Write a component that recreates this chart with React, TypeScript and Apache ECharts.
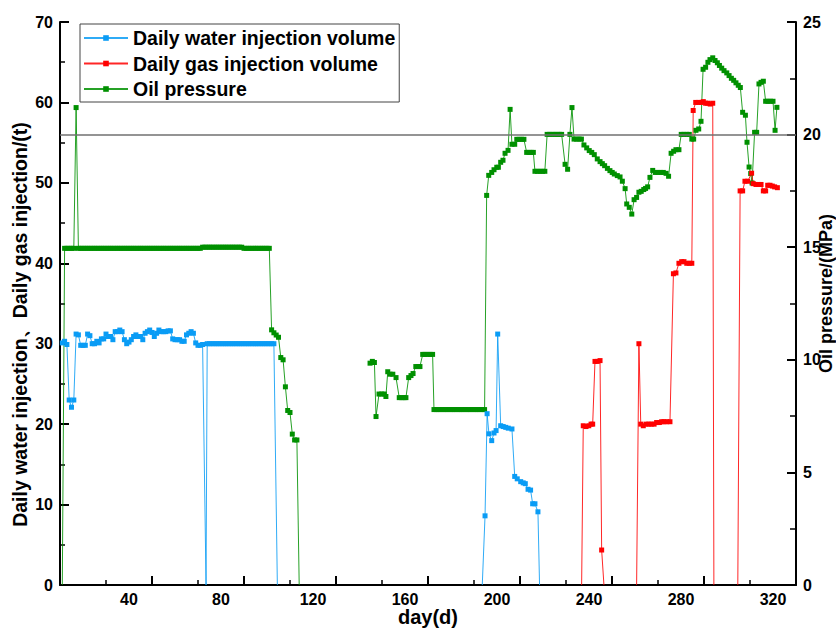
import React, { useEffect, useRef } from 'react';
import * as echarts from 'echarts';

const FONT = '"Liberation Sans", Arial, Helvetica, sans-serif';

const seriesNames = ['Daily water injection volume', 'Daily gas injection volume', 'Oil pressure'];
const xAxisName = 'day(d)';
const leftAxisName = 'Daily water injection、Daily gas injection/(t)';
const rightAxisName = 'Oil pressure/(MPa)';
const dayRange = [0, 320];
const dayStep = 40;
const injectionRange = [0, 70];
const injectionStep = 10;
const pressureRange = [0, 25];
const pressureStep = 5;
const pressureReference = 20;

// [day, t]  (null = gap)
const waterInjection: [number, number | null][] = [
  [1, 30.1], [2, 30.3], [3, 29.9], [4, 23.0], [5, 22.1], [6, 23.0], [7, 31.2], [8, 31.1], [9, 29.8], [10, 29.8],
  [11, 29.8], [12, 31.2], [13, 31.0], [14, 30.0], [15, 30.0], [16, 30.3], [17, 30.1], [18, 30.6], [19, 30.6], [20, 31.2],
  [21, 30.9], [22, 30.9], [23, 30.5], [24, 31.5], [25, 31.5], [26, 31.7], [27, 31.5], [28, 30.5], [29, 30.0], [30, 30.2],
  [31, 30.5], [32, 30.9], [33, 31.1], [34, 30.9], [35, 30.9], [36, 30.5], [37, 31.3], [38, 31.5], [39, 31.7], [40, 31.4],
  [41, 30.9], [42, 31.3], [43, 31.7], [44, 31.5], [45, 31.5], [46, 31.5], [47, 31.6], [48, 31.6], [49, 30.6], [50, 30.5],
  [51, 30.5], [52, 30.5], [53, 30.3], [54, 30.3], [55, 31.1], [56, 31.3], [57, 31.5], [58, 31.3], [59, 30.1], [60, 29.8],
  [61, 29.8], [62, 29.9], [63.5, 0],
  [64, 30], [65, 30], [66, 30], [67, 30], [68, 30], [69, 30], [70, 30], [71, 30], [72, 30], [73, 30],
  [74, 30], [75, 30], [76, 30], [77, 30], [78, 30], [79, 30], [80, 30], [81, 30], [82, 30], [83, 30],
  [84, 30], [85, 30], [86, 30], [87, 30], [88, 30], [89, 30], [90, 30], [91, 30], [92, 30], [93, 30],
  [94.5, 0], [140, null],
  [183.6, 0], [184.8, 8.6], [185.7, 21.3], [186.5, 18.8], [187.7, 17.95], [188.7, 18.9], [189.6, 19.2], [190.3, 31.2],
  [191.6, 19.8], [192.7, 19.7], [193.8, 19.6], [194.9, 19.5], [196.5, 19.4], [197.7, 13.5], [198.8, 13.2], [200.3, 12.85],
  [201.4, 12.7], [202.3, 12.6], [203.5, 11.9], [204.6, 11.8], [205.5, 10.1], [206.5, 10.1], [207.8, 9.1], [208.5, 0],
];

// [day, t]  (null = gap)
const gasInjection: [number, number | null][] = [
  [226.8, 0], [227.5, 19.8], [228.7, 19.7], [229.9, 19.8], [230.9, 20.0], [231.6, 20.0], [232.6, 27.8],
  [233.6, 27.8], [234.8, 27.9], [235.5, 4.35], [236.5, 0], [243, null], [250.7, 0], [251.7, 30.0], [252.5, 20.0], [253.6, 19.8],
  [254.8, 20.0], [256, 20.0], [257.1, 20.0], [258.3, 20.0], [259.4, 20.2], [260.6, 20.2], [261.6, 20.3], [262.6, 20.3],
  [263.8, 20.3], [265.2, 20.3], [266.7, 38.7], [267.8, 38.8], [269.1, 40.0], [270.3, 40.2], [271.3, 40.2], [272.5, 40.0],
  [273.6, 40.0], [274.7, 40.0], [275.3, 59.0], [276.4, 60.0], [277.5, 60.0], [278.7, 60.0], [279.7, 60.1], [280.7, 59.9],
  [281.6, 59.9], [282.7, 59.8], [283.8, 59.9], [284.3, 0], [289, null], [294.7, 0], [295.7, 49.0], [296.8, 49.0], [297.8, 50.2],
  [299, 50.2], [300.7, 51.2], [301.4, 49.9], [302.6, 49.8], [303.7, 49.8], [304.8, 49.8], [305.8, 49.0], [306.8, 49.0],
  [307.7, 49.7], [308.7, 49.7], [309.7, 49.6], [310.7, 49.5], [311.9, 49.4],
];

// [day, MPa]  (null = gap)
const oilPressure: [number, number | null][] = [
  [1, 0], [2, 14.95], [3, 14.95], [4, 14.95], [5, 14.95], [6, 14.95], [7, 21.2], [8, 14.95], [9, 14.95], [10, 14.95],
  [11, 14.95], [12, 14.95], [13, 14.95], [14, 14.95], [15, 14.95], [16, 14.95], [17, 14.95], [18, 14.95], [19, 14.95], [20, 14.95],
  [21, 14.95], [22, 14.95], [23, 14.95], [24, 14.95], [25, 14.95], [26, 14.95], [27, 14.95], [28, 14.95], [29, 14.95], [30, 14.95],
  [31, 14.95], [32, 14.95], [33, 14.95], [34, 14.95], [35, 14.95], [36, 14.95], [37, 14.95], [38, 14.95], [39, 14.95], [40, 14.95],
  [41, 14.95], [42, 14.95], [43, 14.95], [44, 14.95], [45, 14.95], [46, 14.95], [47, 14.95], [48, 14.95], [49, 14.95], [50, 14.95],
  [51, 14.95], [52, 14.95], [53, 14.95], [54, 14.95], [55, 14.95], [56, 14.95], [57, 14.95], [58, 14.95], [59, 14.95], [60, 14.95],
  [61, 14.95], [62, 15.0], [63, 15.0], [64, 15.0], [65, 15.0], [66, 15.0], [67, 15.0], [68, 15.0], [69, 15.0], [70, 15.0],
  [71, 15.0], [72, 15.0], [73, 15.0], [74, 15.0], [75, 15.0], [76, 15.0], [77, 15.0], [78, 15.0], [79, 15.0], [80, 14.95],
  [81, 14.95], [82, 14.95], [83, 14.95], [84, 14.95], [85, 14.95], [86, 14.95], [87, 14.95], [88, 14.95], [89, 14.95], [90, 14.95],
  [91, 14.95], [92, 11.33], [93, 11.2], [94, 11.1], [95, 11.0], [96, 10.1], [97, 10.0], [98, 8.8], [99, 7.75], [100, 7.66],
  [101, 6.7], [102, 6.44], [103, 6.44], [104, 0],
  [120, null],
  [134.8, 9.85], [135.8, 9.93], [136.7, 9.88], [137.4, 7.48], [138.7, 8.48], [139.9, 8.48], [141, 8.48], [141.7, 8.37],
  [142.5, 9.47], [143.5, 9.36], [144.7, 9.36], [146.1, 9.21], [147.5, 8.32], [148.6, 8.32], [149.6, 8.32], [150.4, 8.32],
  [151.6, 9.21], [152.6, 9.3], [153.5, 9.39], [154.7, 9.7], [155.7, 9.7], [156.5, 9.7], [157.7, 10.24], [158.7, 10.24],
  [159.8, 10.24], [160.9, 10.24], [162, 10.24],
  [162.6, 7.79], [163.6, 7.79], [164.6, 7.79], [165.6, 7.79], [166.6, 7.79], [167.6, 7.79], [168.6, 7.79], [169.6, 7.79],
  [170.6, 7.79], [171.6, 7.79], [172.6, 7.79], [173.6, 7.79], [174.6, 7.79], [175.6, 7.79], [176.6, 7.79], [177.6, 7.79],
  [178.6, 7.79], [179.6, 7.79], [180.6, 7.79], [181.6, 7.79], [182.6, 7.79], [183.6, 7.79], [184.6, 7.79],
  [185.5, 17.3], [186.4, 18.19], [187.7, 18.32], [188.7, 18.44], [189.9, 18.55], [190.6, 18.55], [191.6, 18.77], [192.6, 18.86],
  [193.5, 19.17], [194.8, 19.3], [195.7, 21.12], [196.5, 19.57], [197.7, 19.57], [198.6, 19.79], [199.6, 19.79], [200.7, 19.79],
  [201.7, 19.79], [202.9, 19.21], [203.9, 19.21], [204.9, 19.21], [205.8, 19.21], [206.5, 18.37], [207.6, 18.37], [208.7, 18.37],
  [209.8, 18.37], [210.8, 18.37], [211.8, 20.01], [212.9, 20.01], [214, 20.01], [215.1, 20.01], [216.1, 20.01], [217.1, 20.01],
  [218.1, 20.01], [219.6, 18.68], [220.7, 18.46], [221.7, 20.01], [222.6, 21.2], [223.5, 19.8], [224.6, 19.8], [225.7, 19.8],
  [226.7, 19.8], [227.8, 19.54], [229, 19.41], [230.1, 19.29], [231.2, 19.21], [232.3, 19.11], [233.6, 18.92], [234.8, 18.8],
  [235.8, 18.71], [236.8, 18.62], [238, 18.5], [239.1, 18.4], [240.1, 18.32], [241, 18.25], [242.3, 18.18], [243.5, 18.12],
  [244.5, 17.93], [245.7, 17.6], [246.4, 16.92], [247.5, 16.77], [248.6, 16.47], [249.6, 17.11], [250.7, 17.21], [251.7, 17.44],
  [252.7, 17.48], [253.8, 17.56], [254.6, 17.61], [255.5, 17.68], [256.5, 18.1], [257.7, 18.41], [258.8, 18.32], [260, 18.32],
  [261.2, 18.32], [262.3, 18.32], [263.5, 18.28], [264.6, 18.15], [265.7, 19.17], [266.8, 19.26], [267.8, 19.33], [269.1, 19.33],
  [270.1, 20.01], [271.3, 20.01], [272.5, 20.01], [273.6, 20.01], [274.7, 19.8], [275.5, 19.8], [276.5, 20.19], [277.7, 20.25],
  [278.7, 20.59], [279.6, 22.9], [280.7, 22.99], [281.7, 23.21], [282.6, 23.33], [283.8, 23.41], [284.8, 23.29], [285.8, 23.19],
  [286.7, 23.07], [287.7, 22.95], [288.7, 22.84], [289.9, 22.74], [290.9, 22.62], [291.9, 22.5], [292.9, 22.41], [293.9, 22.3],
  [294.9, 22.19], [295.8, 22.09], [296.8, 20.99], [298, 20.86], [298.7, 19.66], [299.6, 18.56], [300.3, 18.27], [300.9, 17.85],
  [302, 20.1], [302.9, 20.1], [303.9, 22.25], [304.8, 22.32], [305.8, 22.37], [306.8, 21.48], [307.8, 21.48], [308.9, 21.48],
  [310, 21.48], [310.9, 20.19], [311.7, 21.21],
];

const seriesColors = ['#0a9cf5', '#ff0000', '#009000'];

function toData(pairs: [number, number | null][]) {
  return pairs.map(([d, v]) => {
    if (v === null) return [d, '-'];
    if (v === 0) return { value: [d, v], symbol: 'none' };
    return [d, v];
  });
}

const axisText = { fontFamily: FONT, fontSize: 16, fontWeight: 'bold' as const, color: '#000' };
const nameText = { fontFamily: FONT, fontSize: 20, fontWeight: 'bold' as const, color: '#000' };
const blackLine = { color: '#000', width: 2 };

function lineSeries(name: string, pairs: [number, number | null][], color: string, yAxisIndex: number, extra: any = {}) {
  return {
    name,
    type: 'line',
    yAxisIndex,
    data: toData(pairs),
    symbol: 'rect',
    symbolSize: 5,
    showSymbol: true,
    connectNulls: false,
    color,
    itemStyle: { color },
    lineStyle: { color, width: 1, opacity: 0.85 },
    emphasis: { disabled: true },
    silent: true,
    ...extra,
  };
}

const option: any = {
  animation: false,
  backgroundColor: '#fff',
  grid: { left: 60, right: 40, top: 22, bottom: 43, containLabel: false, outerBoundsMode: 'none' },
  legend: {
    data: seriesNames,
    orient: 'vertical',
    left: 80,
    top: 24,
    padding: [4, 4, 3, 3],
    itemGap: 5.5,
    itemWidth: 44,
    itemHeight: 7,
    borderColor: '#444',
    borderWidth: 1,
    textStyle: { fontFamily: FONT, fontSize: 19.5, fontWeight: 'bold', color: '#000' },
  },
  xAxis: {
    type: 'value',
    min: dayRange[0],
    max: dayRange[1],
    interval: dayStep,
    name: xAxisName,
    nameLocation: 'middle',
    nameGap: 22,
    nameMoveOverlap: false,
    nameTextStyle: nameText,
    axisLine: { show: true, onZero: false, lineStyle: blackLine },
    axisTick: { show: true, inside: true, length: 9, lineStyle: blackLine },
    minorTick: { show: true, splitNumber: 2, length: 5, lineStyle: { color: '#000', width: 1.5 } },
    splitLine: { show: false },
    minorSplitLine: { show: false },
    axisLabel: {
      showMinLabel: false,
      margin: 6,
      formatter: (v: number) => `{t|${v}}`,
      rich: { t: { ...axisText, padding: [0, 46, 0, 0] } },
    },
  },
  yAxis: [
    {
      type: 'value',
      position: 'left',
      min: injectionRange[0],
      max: injectionRange[1],
      interval: injectionStep,
      name: leftAxisName,
      nameLocation: 'middle',
      nameRotate: 90,
      nameGap: 30,
      nameMoveOverlap: false,
      nameTextStyle: { ...nameText, fontSize: 19.5, padding: [0, 42, 0, 0] },
      axisLine: { show: true, onZero: false, lineStyle: blackLine },
      axisTick: { show: true, inside: true, length: 9, lineStyle: blackLine },
      minorTick: { show: true, splitNumber: 2, length: 5, lineStyle: { color: '#000', width: 1.5 } },
      splitLine: { show: false },
      axisLabel: { ...axisText, margin: 7 },
    },
    {
      type: 'value',
      position: 'right',
      min: pressureRange[0],
      max: pressureRange[1],
      interval: pressureStep,
      name: rightAxisName,
      nameLocation: 'middle',
      nameRotate: 90,
      nameGap: 21,
      nameMoveOverlap: false,
      nameTextStyle: { ...nameText, fontSize: 18, padding: [0, 0, 0, 20] },
      axisLine: { show: true, onZero: false, lineStyle: blackLine },
      axisTick: { show: true, inside: true, length: 9, lineStyle: blackLine },
      minorTick: { show: true, splitNumber: 2, length: 6, lineStyle: { color: '#000', width: 1.5 } },
      splitLine: { show: false },
      axisLabel: { ...axisText, margin: 7 },
    },
  ],
  series: [
    lineSeries(seriesNames[2], oilPressure, seriesColors[2], 1, {
      markLine: {
        silent: true,
        symbol: ['none', 'none'],
        label: { show: false },
        lineStyle: { color: '#707070', width: 1.5, type: 'solid' },
        data: [{ yAxis: pressureReference }],
      },
    }),
    lineSeries(seriesNames[0], waterInjection, seriesColors[0], 0),
    lineSeries(seriesNames[1], gasInjection, seriesColors[1], 0),
  ],
};

export default function App() {
  const ref = useRef<HTMLDivElement>(null);
  useEffect(() => {
    if (!ref.current) return;
    const chart = echarts.init(ref.current, null, { renderer: 'svg' });
    chart.setOption(option);
    return () => chart.dispose();
  }, []);
  return (
    <div
      ref={ref}
      style={{ position: 'fixed', left: 0, top: 0, width: 836, height: 628, background: '#fff' }}
    />
  );
}
